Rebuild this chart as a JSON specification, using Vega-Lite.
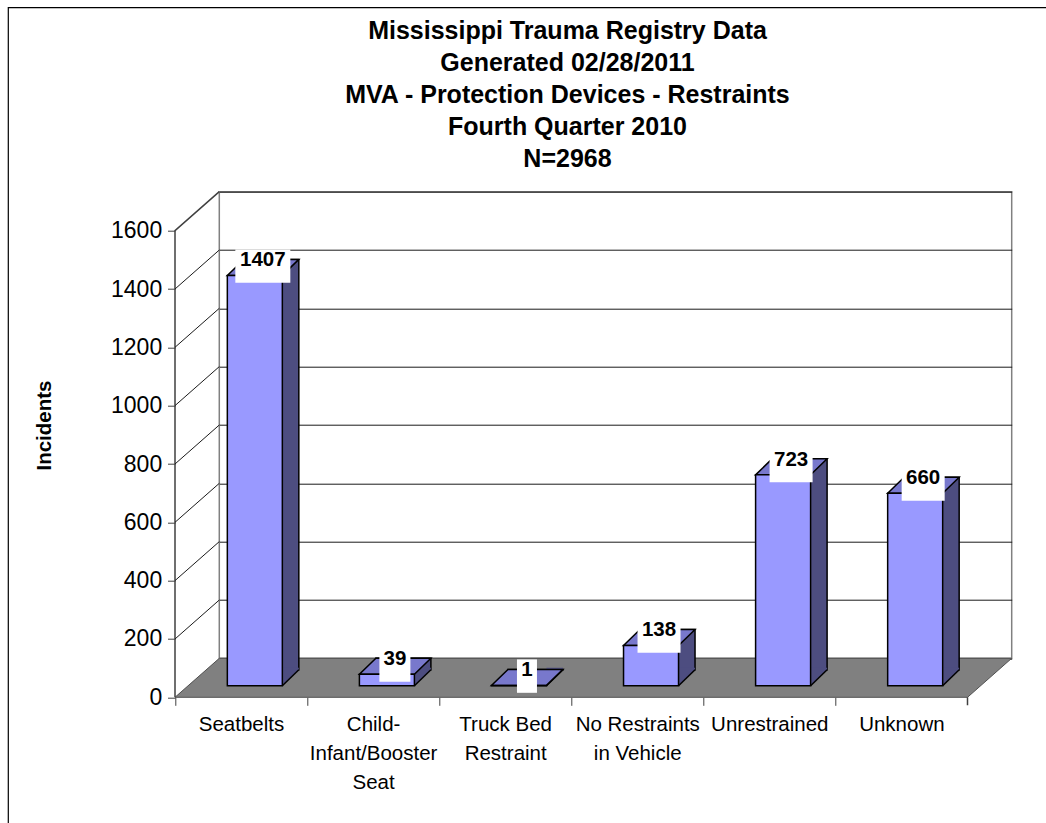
{
  "$schema": "https://vega.github.io/schema/vega-lite/v6.json",
  "autosize": "none",
  "width": 792.4,
  "height": 466.6,
  "padding": {"left": 219.3, "top": 191.7, "right": 34.3, "bottom": 164.7},
  "background": "white",
  "title": {
    "text": ["Mississippi Trauma Registry Data", "Generated 02/28/2011", "MVA - Protection Devices - Restraints", "Fourth Quarter 2010", "N=2968"],
    "font": "Liberation Sans",
    "fontSize": 25,
    "fontWeight": "bold",
    "color": "#000000",
    "lineHeight": 32,
    "anchor": "middle",
    "frame": "group",
    "dx": -48,
    "offset": -167
  },
  "data": {
    "values": [
      {"restraint": "Seatbelts", "count": 1407},
      {"restraint": "Child-Infant/Booster Seat", "count": 39},
      {"restraint": "Truck Bed Restraint", "count": 1},
      {"restraint": "No Restraints in Vehicle", "count": 138},
      {"restraint": "Unrestrained", "count": 723},
      {"restraint": "Unknown", "count": 660}
    ]
  },
  "layer": [
    {
      "data": {"values": [{"part": "floor"}]},
      "mark": {"type": "point", "shape": "M-440.5,39L352,39L396.2,0L-396.2,0Z", "size": 4, "filled": true, "fill": "#808080", "stroke": "#505050", "strokeWidth": 1, "opacity": 1},
      "encoding": {"y": {"datum": 0, "type": "quantitative", "scale": {"domain": [0, 1600], "nice": false, "zero": true}, "axis": null}}
    },
    {
      "data": {"values": [{"part": "wall"}]},
      "mark": {"type": "point", "shape": "M-440.5,39L-440.5,-427.7L-396.2,-466.7M352,39L352,47", "size": 4, "filled": false, "stroke": "#404040", "strokeWidth": 1.5, "opacity": 1},
      "encoding": {"y": {"datum": 0, "type": "quantitative", "axis": null}}
    },
    {
      "data": {"values": [{"part": "depth"}]},
      "mark": {"type": "point", "shape": "M-440.5,-19.3L-396.2,-58.3M-440.5,-77.7L-396.2,-116.7M-440.5,-136L-396.2,-175M-440.5,-194.3L-396.2,-233.3M-440.5,-252.7L-396.2,-291.7M-440.5,-311L-396.2,-350M-440.5,-369.3L-396.2,-408.3", "size": 4, "filled": false, "stroke": "#1a1a1a", "strokeWidth": 1, "opacity": 1},
      "encoding": {"y": {"datum": 0, "type": "quantitative", "axis": null}}
    },
    {
      "data": {"values": [{"part": "border"}]},
      "mark": {"type": "point", "shape": "M-607.2,164.7L-607.2,-650.6L430.5,-650.6", "size": 4, "filled": false, "stroke": "#000000", "strokeWidth": 1.2, "opacity": 1},
      "encoding": {"y": {"datum": 0, "type": "quantitative", "axis": null}}
    },
    {
      "mark": {"type": "bar", "width": 55, "xOffset": -14, "yOffset": 11.4, "y2Offset": 11.4, "fill": "#4d4d80", "stroke": "#000000", "strokeWidth": 1.5, "opacity": 1},
      "encoding": {
        "x": {"field": "restraint", "type": "nominal", "sort": null, "scale": {"type": "band", "paddingInner": 0, "paddingOuter": 0}, "axis": null},
        "y": {"field": "count", "type": "quantitative", "axis": {"orient": "left", "values": [0, 200, 400, 600, 800, 1000, 1200, 1400, 1600], "grid": true, "gridColor": "#1a1a1a", "gridWidth": 1, "labels": false, "ticks": false, "domain": false, "title": null}}
      }
    },
    {
      "mark": {"type": "point", "shape": "M0,0L16.5,-16L16.5,-18L0,-18Z", "size": 4, "filled": true, "fill": "#4d4d80", "strokeWidth": 0, "xOffset": -3, "yOffset": 27.4, "opacity": 1},
      "encoding": {
        "x": {"field": "restraint", "type": "nominal", "sort": null, "scale": {"type": "band", "paddingInner": 0, "paddingOuter": 0}, "axis": null},
        "y": {"datum": 0, "type": "quantitative", "axis": null}
      }
    },
    {
      "mark": {"type": "point", "shape": "M0,0L16.5,-16", "size": 4, "filled": false, "stroke": "#000000", "strokeWidth": 1.5, "xOffset": -3, "yOffset": 27.4, "opacity": 1},
      "encoding": {
        "x": {"field": "restraint", "type": "nominal", "sort": null, "scale": {"type": "band", "paddingInner": 0, "paddingOuter": 0}, "axis": null},
        "y": {"datum": 0, "type": "quantitative", "axis": null}
      }
    },
    {
      "mark": {"type": "point", "shape": "M-35.75,8L19.25,8L35.75,-8L-19.25,-8Z", "size": 4, "filled": true, "fill": "#7878cc", "stroke": "#000000", "strokeWidth": 1.5, "xOffset": -22.25, "yOffset": 19.4, "opacity": 1},
      "encoding": {
        "x": {"field": "restraint", "type": "nominal", "sort": null, "scale": {"type": "band", "paddingInner": 0, "paddingOuter": 0}, "axis": null},
        "y": {"field": "count", "type": "quantitative", "axis": null}
      }
    },
    {
      "mark": {"type": "bar", "width": 55, "xOffset": -30.5, "yOffset": 27.4, "y2Offset": 27.4, "fill": "#9999ff", "stroke": "#000000", "strokeWidth": 1.5, "opacity": 1},
      "encoding": {
        "x": {
          "field": "restraint", "type": "nominal", "sort": null,
          "scale": {"type": "band", "paddingInner": 0, "paddingOuter": 0},
          "axis": {
            "orient": "bottom", "offset": 39, "tickOffset": -110.3, "labelOffset": 66,
            "domain": false, "ticks": true, "tickSize": 8, "tickColor": "#404040", "tickWidth": 1,
            "labelFont": "Liberation Sans", "labelFontSize": 20.5, "labelColor": "#000000",
            "labelPadding": 9.4, "labelLineHeight": 29, "labelAngle": 0, "labelLimit": 300,
            "labelExpr": "datum.label == 'Child-Infant/Booster Seat' ? ['Child-', 'Infant/Booster', 'Seat'] : datum.label == 'Truck Bed Restraint' ? ['Truck Bed', 'Restraint'] : datum.label == 'No Restraints in Vehicle' ? ['No Restraints', 'in Vehicle'] : datum.label",
            "title": null
          }
        },
        "y": {
          "field": "count", "type": "quantitative",
          "axis": {
            "orient": "left", "offset": 44.3, "tickOffset": 39, "format": "d",
            "values": [0, 200, 400, 600, 800, 1000, 1200, 1400, 1600],
            "grid": false, "domain": false, "ticks": true, "tickSize": 7.5, "tickColor": "#404040", "tickWidth": 1,
            "labelFont": "Liberation Sans", "labelFontSize": 23, "labelColor": "#000000", "labelPadding": 5.8,
            "title": "Incidents", "titleFont": "Liberation Sans", "titleFontSize": 20.5, "titleFontWeight": "bold",
            "titleColor": "#000000", "titlePadding": 60, "titleBaseline": "alphabetic"
          }
        }
      }
    },
    {
      "mark": {"type": "bar", "xOffset": -22.5, "yOffset": 1.4, "y2Offset": 34.8, "fill": "#ffffff", "strokeWidth": 0, "opacity": 1},
      "encoding": {
        "x": {"field": "restraint", "type": "nominal", "sort": null, "scale": {"type": "band", "paddingInner": 0, "paddingOuter": 0}, "axis": null},
        "y": {"field": "count", "type": "quantitative", "axis": null},
        "y2": {"field": "count"},
        "size": {"field": "count", "type": "quantitative", "scale": {"type": "threshold", "domain": [10, 100, 1000], "range": [20, 31, 43, 55]}, "legend": null}
      }
    },
    {
      "mark": {"type": "text", "font": "Liberation Sans", "fontSize": 20.5, "fontWeight": "bold", "color": "#000000", "xOffset": -22.5, "yOffset": 12.1, "baseline": "middle", "align": "center"},
      "encoding": {
        "x": {"field": "restraint", "type": "nominal", "sort": null, "scale": {"type": "band", "paddingInner": 0, "paddingOuter": 0}, "axis": null},
        "y": {"field": "count", "type": "quantitative", "axis": null},
        "text": {"field": "count", "type": "quantitative"}
      }
    }
  ],
  "resolve": {"axis": {"x": "independent", "y": "independent"}},
  "config": {
    "font": "Liberation Sans",
    "view": {"stroke": "#808080", "strokeWidth": 1.5}
  }
}
